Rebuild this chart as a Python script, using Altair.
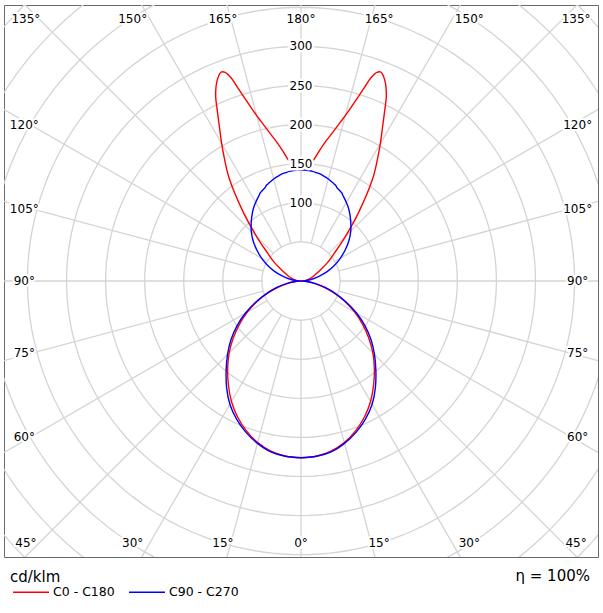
import altair as alt
import pandas as pd
import numpy as np

# ---------------- data (cd/klm) ----------------
gamma = [0, 5, 10, 15, 20, 25, 30, 35, 40, 45, 50, 55, 60, 65, 70, 75, 80, 85, 90,
         95, 100, 105, 110, 115, 120, 125, 130, 135, 140, 145, 148, 150, 152, 154,
         155, 156, 157, 158, 159, 160, 161, 162, 163, 164, 165, 166, 168, 170, 172,
         174, 176, 178, 180]

c0_c180 = [226, 225, 221, 214, 204, 192, 178, 162, 146, 130, 113, 96, 79, 62, 45, 30, 17, 6, 0,
           3, 7, 11, 16, 21, 29, 42, 56, 80, 115, 160, 185, 203, 222, 245,
           258, 268, 276, 282, 286, 284, 275, 258, 243, 230, 219, 210, 194, 181, 168,
           156, 150, 148, 148]

c90_c270 = [226, 225, 222, 215, 206, 195, 182, 166, 149, 133, 117, 100, 82, 64, 47, 32, 18, 7, 0,
            6, 15, 25, 36, 47, 58, 69, 80, 90, 99, 108, 113, 116, 119, 122,
            124, 125, 126, 127, 128, 130, 131, 132, 133, 134, 135, 136, 137.5, 139, 140,
            141, 141.5, 142, 142]

series_names = ["C0 - C180", "C90 - C270"]
series_colors = ["#ff0000", "#0000ff"]

ring_values = [50, 100, 150, 200, 250, 300, 350, 400, 450, 500]
ring_labels = [100, 150, 200, 250, 300]
spoke_angles = list(range(0, 360, 15))
angle_labels = [0, 15, 30, 45, 60, 75, 90, 105, 120, 135, 150, 165, 180]
unit_text = "cd/klm"
eta_text = "η = 100%"

# ---------------- layout ----------------
W, H = 594, 552
XD, YD = 380, 353          # half extents of the plot in cd/klm
FONT = "DejaVu Sans"
GRID = "#d4d4d4"

xs = alt.Scale(domain=[-XD, XD], nice=False, zero=False)
ys = alt.Scale(domain=[-YD, YD], nice=False, zero=False)

# curve table (right half = C0 / C90, left half = C180 / C270)
rows = []
n = len(gamma)
for name, vals in zip(series_names, [c0_c180, c90_c270]):
    for i, (g, v) in enumerate(zip(gamma, vals)):
        rows.append(dict(series=name, side=1, gamma=g, I=v, ord=i))
    for i, (g, v) in enumerate(zip(gamma[::-1], vals[::-1])):
        rows.append(dict(series=name, side=-1, gamma=g, I=v, ord=n + i))
curve_df = pd.DataFrame(rows)

# ring grid
ring_rows = []
for r in ring_values:
    for t in range(0, 361, 2):
        ring_rows.append(dict(r=r, t=t))
ring_df = pd.DataFrame(ring_rows)

spoke_df = pd.DataFrame({"a": spoke_angles})
rlab_df = pd.DataFrame({"v": ring_labels, "txt": [str(v) for v in ring_labels]})

# angle label placement
TOPLINE, LABEL_Y, CORNER_X, SIDELINE, LABEL_X = 373, 335, 352, 345, 354
lab_rows = []
for g in angle_labels:
    sides = [1] if g in (0, 180) else [1, -1]
    for s in sides:
        a = np.radians(g)
        dx, dy = s * np.sin(a), -np.cos(a)
        if abs(dy) >= abs(dx) - 1e-9:
            t = TOPLINE / abs(dy)
            x = float(np.clip(t * dx, -CORNER_X, CORNER_X))
            y = float(np.sign(dy) * LABEL_Y)
        else:
            t = SIDELINE / abs(dx)
            y = float(t * dy)
            x = float(np.sign(dx) * LABEL_X)
        lab_rows.append(dict(x=x, y=y, txt=f"{g}°"))
alab_df = pd.DataFrame(lab_rows)

# ---------------- layers ----------------
rings = alt.Chart(ring_df).transform_calculate(
    px="datum.r*cos(datum.t*PI/180)", py="datum.r*sin(datum.t*PI/180)"
).mark_line(color=GRID, strokeWidth=1.3, clip=True).encode(
    x=alt.X("px:Q", scale=xs, axis=None),
    y=alt.Y("py:Q", scale=ys, axis=None),
    detail="r:N",
    order="t:Q",
)

spokes = alt.Chart(spoke_df).transform_calculate(
    x1="50*sin(datum.a*PI/180)", y1="-50*cos(datum.a*PI/180)",
    x2="500*sin(datum.a*PI/180)", y2="-500*cos(datum.a*PI/180)",
).mark_rule(color=GRID, strokeWidth=1.3, clip=True).encode(
    x=alt.X("x1:Q", scale=xs, axis=None),
    y=alt.Y("y1:Q", scale=ys, axis=None),
    x2="x2:Q",
    y2="y2:Q",
)

curves = alt.Chart(curve_df).transform_calculate(
    px="datum.side*datum.I*sin(datum.gamma*PI/180)",
    py="-datum.I*cos(datum.gamma*PI/180)",
).mark_line(interpolate="catmull-rom", strokeWidth=1.4, clip=True).encode(
    x=alt.X("px:Q", scale=xs, axis=None),
    y=alt.Y("py:Q", scale=ys, axis=None),
    color=alt.Color(
        "series:N",
        scale=alt.Scale(domain=series_names, range=series_colors),
        legend=alt.Legend(
            orient="none", legendX=8, legendY=568, direction="horizontal",
            title=None,
            labelFont=FONT, labelFontSize=12.5, labelColor="black", labelOffset=3,
            symbolType="stroke", symbolSize=1296, symbolStrokeWidth=1.5,
            columnPadding=11, padding=0,
        ),
    ),
    order="ord:Q",
)

rlab_halo = alt.Chart(rlab_df).mark_text(
    font=FONT, fontSize=12, color="white", stroke="white", strokeWidth=5,
    baseline="middle", align="center"
).encode(x=alt.X("zero:Q", scale=xs, axis=None), y=alt.Y("v:Q", scale=ys, axis=None), text="txt:N"
).transform_calculate(zero="0")

rlab = alt.Chart(rlab_df).mark_text(
    font=FONT, fontSize=12, color="black", baseline="middle", align="center"
).encode(x=alt.X("zero:Q", scale=xs, axis=None), y=alt.Y("v:Q", scale=ys, axis=None), text="txt:N"
).transform_calculate(zero="0")

alab_halo = alt.Chart(alab_df).mark_text(
    font=FONT, fontSize=12, color="white", stroke="white", strokeWidth=4,
    baseline="middle", align="center"
).encode(x=alt.X("x:Q", scale=xs, axis=None), y=alt.Y("y:Q", scale=ys, axis=None), text="txt:N")

alab = alt.Chart(alab_df).mark_text(
    font=FONT, fontSize=12, color="black", baseline="middle", align="center"
).encode(x=alt.X("x:Q", scale=xs, axis=None), y=alt.Y("y:Q", scale=ys, axis=None), text="txt:N")

eta = alt.Chart(pd.DataFrame({"t": [eta_text]})).mark_text(
    font=FONT, fontSize=15, color="black", align="right", baseline="middle"
).encode(x=alt.value(W - 8), y=alt.value(H + 19), text="t:N")

unit = alt.Chart(pd.DataFrame({"t": [unit_text]})).mark_text(
    font=FONT, fontSize=15, color="black", align="left", baseline="middle"
).encode(x=alt.value(6), y=alt.value(H + 20), text="t:N")

chart = alt.layer(
    rings, spokes, curves, rlab_halo, rlab, alab_halo, alab, eta, unit
).properties(
    width=W, height=H,
    padding={"left": 4, "top": 5, "right": 5, "bottom": 56},
    autosize=alt.AutoSizeParams(type="none"),
    background="white",
).configure_view(stroke="#6a6a6a", strokeWidth=1)

chart.save("out.html", embed_options={"renderer": "svg", "actions": False})
